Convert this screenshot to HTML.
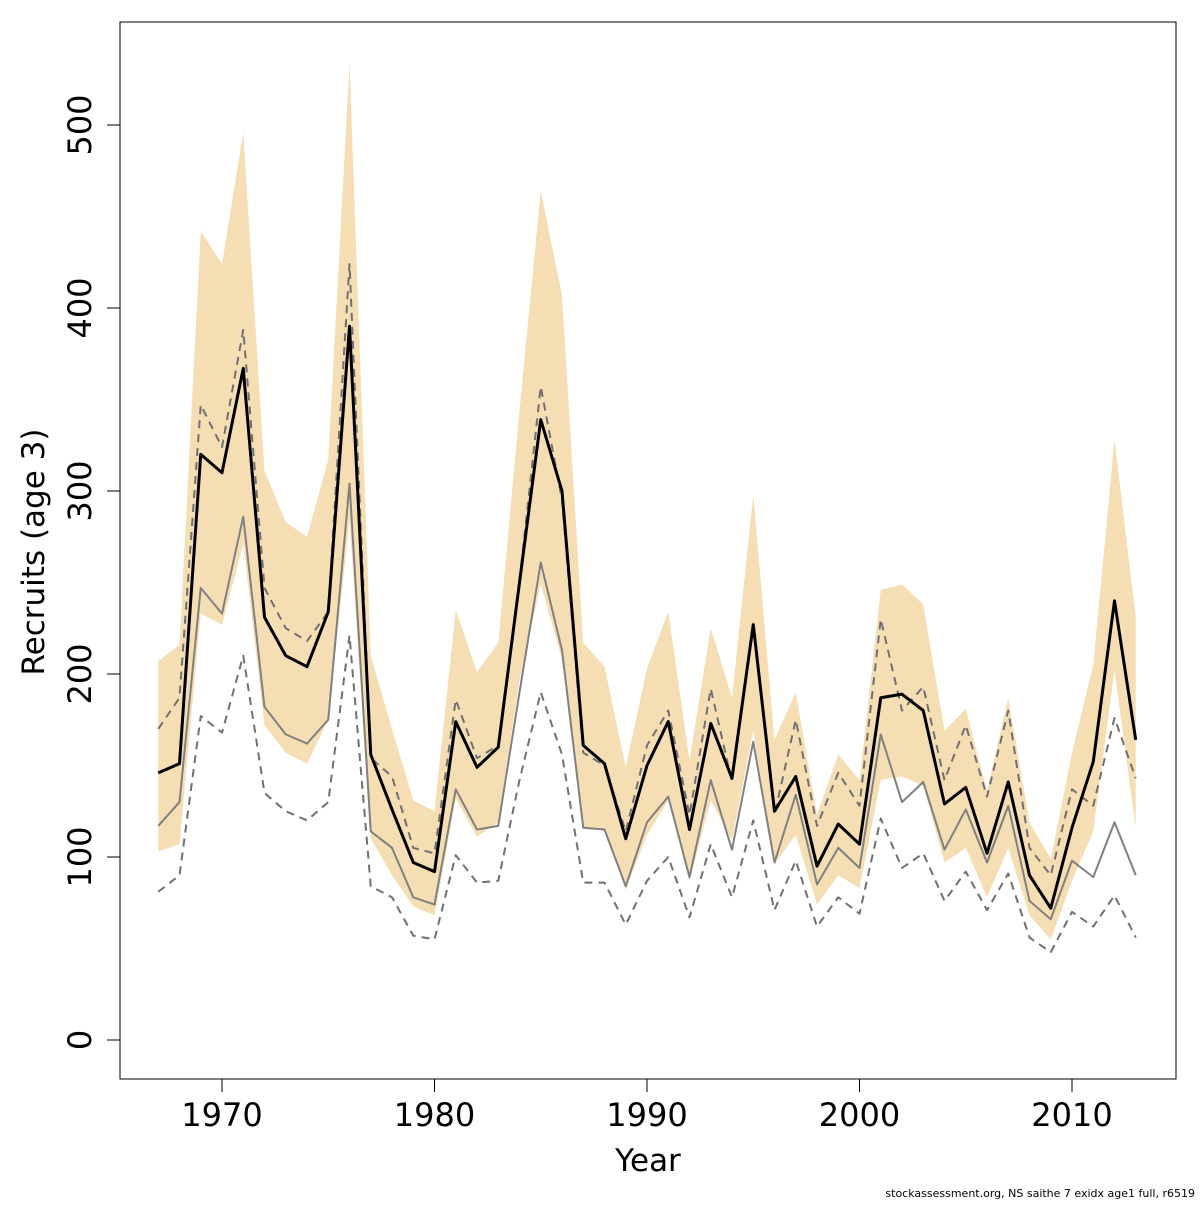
<!DOCTYPE html>
<html><head><meta charset="utf-8"><style>
body{margin:0;background:#fff}
svg text{font-family:"DejaVu Sans","Liberation Sans",sans-serif;fill:#000}
</style></head><body>
<svg id="chart" width="1200" height="1200" xmlns="http://www.w3.org/2000/svg">
<g id="band"></g>
<g id="lines"></g>
<rect x="120" y="22" width="1056" height="1057" fill="none" stroke="#000" stroke-width="1"/>
<g id="xaxis"></g>
<g id="yaxis"></g>
<text x="648" y="1171" font-size="31" text-anchor="middle">Year</text>
<text x="0" y="0" font-size="31" text-anchor="middle" transform="translate(44,552) rotate(-90)">Recruits (age 3)</text>
<text x="1195" y="1197" font-size="11" text-anchor="end">stockassessment.org, NS saithe 7 exidx age1 full, r6519</text>
</svg>
<script>
const years=[];for(let y=1967;y<=2013;y++)years.push(y);
const estimate=[146,151,320,310,367,231,210,204,234,390,156,126,97,92,174,149,160,250,339,300,161,151,110,150,174,115,173,143,227,125,144,95,118,107,187,189,180,129,138,102,141,90,72,116,152,240,164];
const upper=[207,216,442,424,496,311,283,275,317,534,210,170,131,125,235,201,217,344,464,407,217,204,149,203,234,153,225,187,298,164,190,123,156,142,246,249,238,169,181,136,187,119,99,157,205,328,231];
const lower=[103,107,233,227,271,172,157,151,175,284,110,90,73,68,132,111,119,197,249,208,116,115,82,112,131,87,131,109,169,96,112,74,90,83,142,144,139,97,105,78,105,68,55,87,114,202,116];
const altEstimate=[117,130,247,233,286,182,167,162,175,304,114,105,78,74,137,115,117,190,261,213,116,115,84,119,133,89,142,104,163,97,134,85,105,94,167,130,141,104,126,97,128,76,66,98,89,119,90];
const altUpper=[170,187,347,324,388,247,225,218,234,424,154,144,105,102,186,154,161,251,357,295,157,150,114,161,180,123,192,141,227,123,175,117,146,128,230,180,193,142,172,133,180,105,90,137,128,176,143];
const altLower=[81,90,177,168,210,135,125,120,130,221,84,78,57,55,101,86,87,142,190,156,86,86,63,87,100,67,107,78,120,71,98,62,78,69,121,94,102,76,92,71,91,56,48,70,62,79,56];
const xTicks=[1970,1980,1990,2000,2010];
const yTicks=[0,100,200,300,400,500];
const NS="http://www.w3.org/2000/svg";
const X=yr=>222+(yr-1970)*21.25;
const Y=v=>1040-v*1.83;
function mk(tag,parent,attrs){const e=document.createElementNS(NS,tag);for(const k in attrs)e.setAttribute(k,attrs[k]);document.getElementById(parent).appendChild(e);return e;}
let pts=years.map((y,i)=>X(y)+","+Y(upper[i]));
for(let i=years.length-1;i>=0;i--)pts.push(X(years[i])+","+Y(lower[i]));
const poly=mk('polygon','band',{points:pts.join(' '),fill:'#F5DEB3'});


function line(arr,name,stroke,w,dash){
 const p=mk('polyline','lines',{points:years.map((y,i)=>X(y)+","+Y(arr[i])).join(' '),fill:'none',stroke:stroke,'stroke-width':w,'stroke-linejoin':'round'});
 if(dash)p.setAttribute('stroke-dasharray',dash);
 
 
}
line(altEstimate,'alt-estimate-line','#808080',2,null);
line(altUpper,'alt-upper-dashed','#707070',2,'8,6');
line(altLower,'alt-lower-dashed','#707070',2,'8,6');
line(estimate,'estimate-line','#000',3,null);
xTicks.forEach(t=>{
 const l=mk('line','xaxis',{x1:X(t),x2:X(t),y1:1079,y2:1092,stroke:'#000'});
 
 
 const tx=mk('text','xaxis',{x:X(t),y:1126,'font-size':32,'text-anchor':'middle'});
 tx.textContent=t;
 
 
});
yTicks.forEach(t=>{
 const l=mk('line','yaxis',{x1:107,x2:120,y1:Y(t),y2:Y(t),stroke:'#000'});
 
 
 const tx=mk('text','yaxis',{x:0,y:0,'font-size':32,'text-anchor':'middle',transform:`translate(91,${Y(t)}) rotate(-90)`});
 tx.textContent=t;
 
 
});
</script>
</body></html>
